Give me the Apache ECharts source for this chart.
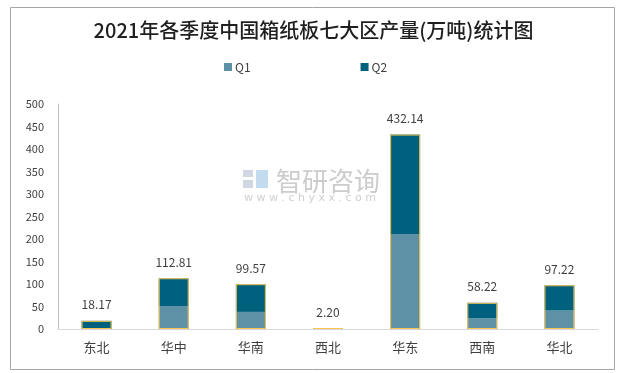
<!DOCTYPE html>
<html>
<head>
<meta charset="utf-8">
<script src="https://cdn.jsdelivr.net/npm/echarts@6/dist/echarts.min.js"></script>
<style>
html,body{margin:0;padding:0;background:#fff;}
#c{width:627px;height:373px;}
</style>
</head>
<body>
<div id="c"></div>
<script>
var categories = ['东北','华中','华南','西北','华东','西南','华北'];
var q1Values = [0, 51, 38, 1.0, 211, 24, 41];
var q2Values = [18.17, 61.81, 61.57, 1.2, 221.14, 34.22, 56.22];
var totalValues = [18.17, 112.81, 99.57, 2.20, 432.14, 58.22, 97.22];
var yTicks = [0, 50, 100, 150, 200, 250, 300, 350, 400, 450, 500];

var chart = echarts.init(document.getElementById('c'), null, {renderer:'canvas'});
var font = '"Microsoft YaHei","Noto Sans CJK SC",sans-serif';
chart.setOption({
  animation:false,
  backgroundColor:'#fff',
  title:{
    text:'2021年各季度中国箱纸板七大区产量(万吨)统计图',
    left:'center', top:15,
    textStyle:{fontFamily:'"Noto Sans CJK SC",serif', fontSize:20, fontWeight:500, color:'#1f1f1f'}
  },
  legend:{
    data:['Q1','Q2'],
    left:219, top:56,
    itemWidth:8, itemHeight:8, itemGap:110,
    icon:'rect',
    textStyle:{fontSize:12, color:'#404040', fontFamily:font, padding:[0,0,0,-2]}
  },
  grid:{left:58, right:29, top:104, bottom:44, containLabel:false},
  xAxis:{
    type:'category',
    data:categories,
    axisLine:{lineStyle:{color:'#d9d9d9'}},
    axisTick:{show:false},
    axisLabel:{fontSize:13, color:'#404040', margin:12, fontFamily:font}
  },
  yAxis:{
    type:'value', min:0, max:500, interval:50,
    axisLine:{show:true, lineStyle:{color:'#bfbfbf'}},
    axisTick:{show:false},
    splitLine:{show:false},
    axisLabel:{fontSize:11, color:'#404040', margin:14, fontFamily:font,
      formatter:function(v){return yTicks.indexOf(v)>=0?String(v):'';}}
  },
  series:[
    {name:'Q1', type:'bar', stack:'s', data:q1Values, barWidth:30,
     itemStyle:{color:'#5e90a6'}},
    {name:'Q2', type:'bar', stack:'s', data:q2Values, barWidth:30,
     itemStyle:{color:'#00617f'}},
    {name:'合计', type:'bar', data:totalValues, barWidth:30, barGap:'-100%', z:5,
     itemStyle:{color:'rgba(0,0,0,0)', borderColor:'#f5c64f', borderWidth:1},
     label:{show:true, position:'top', distance:10, fontSize:12, color:'#404040', fontFamily:font,
       formatter:function(p){return p.value.toFixed(2);}},
     tooltip:{show:false}}
  ],
  graphic:[
    {type:'rect', left:8, top:5, shape:{width:604, height:362}, style:{fill:'none', stroke:'#a6a6a6', lineWidth:1}, silent:true},
    {type:'group', left:243, top:168, silent:true, z:-1, children:[
      {type:'rect', shape:{x:0,y:2,width:10,height:7}, style:{fill:'#cfd8e2'}},
      {type:'rect', shape:{x:0,y:12,width:10,height:8}, style:{fill:'#cfd8e2'}},
      {type:'rect', shape:{x:13,y:2,width:12,height:18}, style:{fill:'#c2dbee'}},
      {type:'text', x:33, y:0, style:{text:'智研咨询', fontSize:26, fill:'#cccccc', fontFamily:'"Noto Sans CJK SC",sans-serif'}},
      {type:'text', x:1, y:25, style:{text:'w w w . c h y x x . c o m', fontSize:11, fill:'#cfcfcf', fontFamily:'"DejaVu Sans",sans-serif'}}
    ]}
  ]
});
</script>
</body>
</html>
